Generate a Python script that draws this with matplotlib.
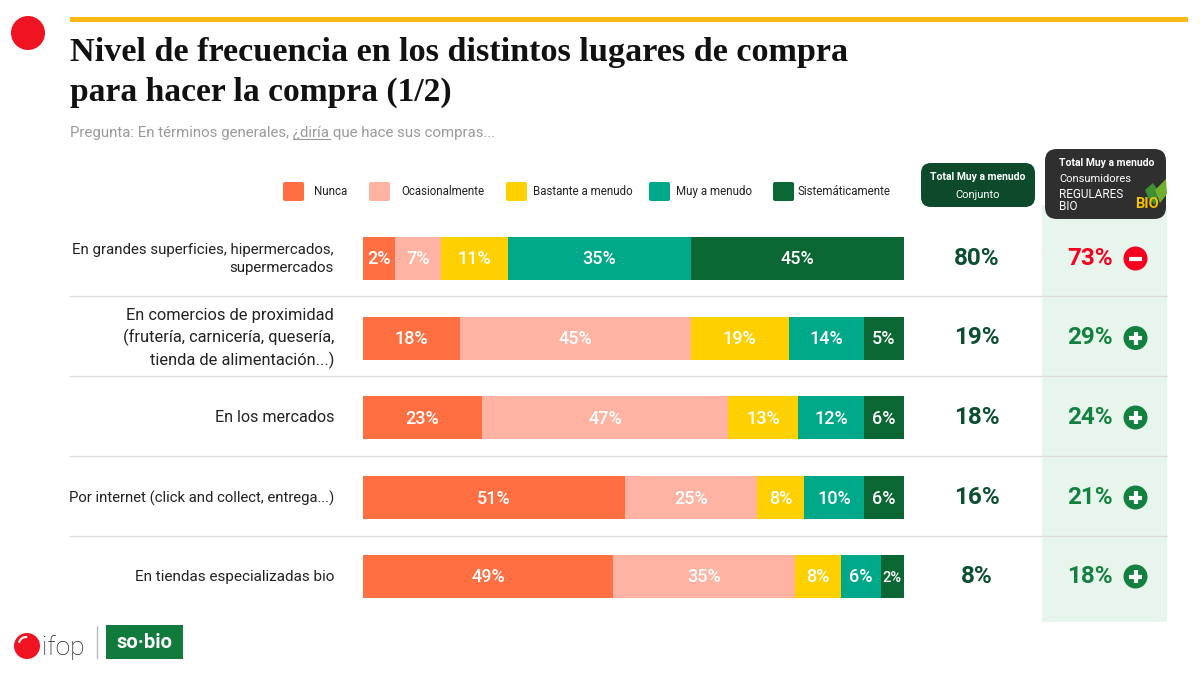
import matplotlib
matplotlib.use('Agg')
import matplotlib.pyplot as plt
from matplotlib.patches import Circle, FancyBboxPatch, Rectangle, Arc, Polygon

plt.rcParams['font.family'] = ['Roboto', 'DejaVu Sans']

# Datos
categorias = ['En grandes superficies, hipermercados,\nsupermercados',
              'En comercios de proximidad\n(frutería, carnicería, quesería,\ntienda de alimentación...)',
              'En los mercados',
              'Por internet (click and collect, entrega...)',
              'En tiendas especializadas bio']
series = ['Nunca', 'Ocasionalmente', 'Bastante a menudo', 'Muy a menudo', 'Sistemáticamente']
colores = ['#FF6F42', '#FFB3A3', '#FFD000', '#00A88A', '#0A6633']

# porcentajes rotulados
nunca = [2, 18, 23, 51, 49]
ocasional = [7, 45, 47, 25, 35]
bastante = [11, 19, 13, 8, 8]
muy = [35, 14, 12, 10, 6]
sistematico = [45, 5, 6, 6, 2]

# longitud dibujada de cada tramo (% del ancho), no siempre igual al rótulo en el original
largo_nunca = [5.9, 17.9, 22.0, 48.4, 46.2]
largo_ocasional = [8.5, 42.7, 45.5, 24.4, 33.6]
largo_bastante = [12.4, 18.1, 12.9, 8.7, 8.5]
largo_muy = [33.8, 13.9, 12.2, 11.1, 7.4]
largo_sistematico = [39.4, 7.4, 7.4, 7.4, 4.3]

total_conjunto = [80, 19, 18, 16, 8]
total_bio = [73, 29, 24, 21, 18]

etiquetas = [nunca, ocasional, bastante, muy, sistematico]
largos = [largo_nunca, largo_ocasional, largo_bastante, largo_muy, largo_sistematico]

fig = plt.figure(figsize=(12, 6.75), dpi=100, facecolor='white')

# capa en pixeles para textos y adornos
bg = fig.add_axes([0, 0, 1, 1])
bg.set_xlim(0, 1200)
bg.set_ylim(675, 0)
bg.axis('off')

# columna verde y separadores
bg.add_patch(Rectangle((1042, 205), 125, 417, color='#E8F5EC', lw=0))
filas_y = [258.5, 338, 417.5, 497.5, 576.5]
for y in [296, 376, 456, 536]:
    bg.plot([70, 1167], [y, y], color='#DDDDDD', lw=1)

# cabecera
bg.add_patch(Rectangle((70, 17), 1118, 5, color='#FDB913', lw=0))
bg.add_patch(Circle((28, 33), 17, color='#F01423', lw=0))
bg.text(70, 53, 'Nivel de frecuencia en los distintos lugares de compra', family='Liberation Serif',
        fontweight='bold', fontsize=24.6, color='#111111', va='center')
bg.text(70, 92, 'para hacer la compra (1/2)', family='Liberation Serif',
        fontweight='bold', fontsize=24.1, color='#111111', va='center')
bg.text(70, 132.5, 'Pregunta: En términos generales, ¿diría que hace sus compras...', fontsize=10.85,
        color='#9A9A9A', va='center')
bg.plot([293, 330], [139, 139], color='#9A9A9A', lw=0.8)

# leyenda
ley_x = [282, 368, 505, 648, 772]
ley_txt = [314, 401, 533, 676, 797]
for x, tx, s, c in zip(ley_x, ley_txt, series, colores):
    bg.add_patch(FancyBboxPatch((x + 1, 182), 21, 19, boxstyle='round,pad=0,rounding_size=2', color=c, lw=0))
    bg.text(tx, 191.5, s, fontsize=8.3, color='#222222', va='center')

# cajas de total
bg.add_patch(FancyBboxPatch((921, 163), 114, 44, boxstyle='round,pad=0,rounding_size=10', color='#0D4A2C', lw=0))
bg.text(978, 177, 'Total Muy a menudo', fontsize=7.5, fontweight='bold', color='white', ha='center', va='center')
bg.text(978, 195, 'Conjunto', fontsize=8, color='white', ha='center', va='center')

bg.add_patch(FancyBboxPatch((1045, 149), 121, 70, boxstyle='round,pad=0,rounding_size=12', color='#2F2F2F', lw=0))
bg.text(1059, 163, 'Total Muy a menudo', fontsize=7.5, fontweight='bold', color='white', va='center')
bg.text(1059, 179, 'Consumidores', fontsize=8, color='white', va='center')
bg.text(1059, 195, 'REGULARES', fontsize=8.5, color='white', va='center')
bg.text(1059, 206, 'BIO', fontsize=8.5, color='white', va='center')
bg.add_patch(Polygon([[1145, 190], [1153, 183], [1159, 192], [1155, 205], [1149, 199]], color='#3F8F35', lw=0))
bg.add_patch(Polygon([[1155, 190], [1166, 179], [1167, 194], [1160, 203]], color='#6FAE2F', lw=0))
bg.text(1147, 204, 'BIO', fontsize=10.5, fontweight='bold', color='#F2C100', ha='center', va='center')

# rotulos de fila y totales
tam_fila = [10.85, 11.8, 11.6, 10.7, 11]
for y, cat, tam, t1, t2 in zip(filas_y, categorias, tam_fila, total_conjunto, total_bio):
    bg.text(334, y + 0.5, cat, fontsize=tam, color='#222222', ha='right', va='center', linespacing=1.4)
    bg.text(977, y, f'{t1}%', fontsize=17.5, fontweight='bold', color='#0B4F2E', ha='center', va='center')
    subio = t2 >= t1
    col = '#12813F' if subio else '#F5001E'
    bg.text(1090, y, f'{t2}%', fontsize=17.5, fontweight='bold', color=col, ha='center', va='center')
    bg.add_patch(Circle((1135.5, y), 12, color=col, lw=0))
    bg.plot([1129, 1142], [y, y], color='white', lw=3, solid_capstyle='butt')
    if subio:
        bg.plot([1135.5, 1135.5], [y - 6.5, y + 6.5], color='white', lw=3, solid_capstyle='butt')

# logos
bg.add_patch(Circle((27, 646), 13, color='#F01423', lw=0))
bg.add_patch(Arc((26, 644), 14, 14, theta1=190, theta2=280, color='white', lw=1.5))
bg.text(42, 648, 'ifop', fontsize=19, fontweight='light', color='#222222', va='center')
bg.plot([97, 97], [626, 658], color='#BBBBBB', lw=1)
bg.add_patch(Rectangle((106, 625), 77, 34, color='#117A3D', lw=0))
bg.text(144.5, 642, 'so·bio', fontsize=14.5, fontweight='bold', color='white', ha='center', va='center')

# barras apiladas
ax = fig.add_axes([363 / 1200, 0, 541 / 1200, 1])
ax.patch.set_alpha(0)
ax.set_xlim(0, 100)
ax.set_ylim(675, 0)
ax.axis('off')

izq = [0.0] * len(categorias)
for lar, eti, c in zip(largos, etiquetas, colores):
    barras = ax.barh(filas_y, lar, left=izq, height=43, color=c, lw=0)
    for b, v in zip(barras, eti):
        ax.text(b.get_x() + b.get_width() / 2, b.get_y() + b.get_height() / 2 + 1, f'{v}%', color='white',
                fontsize=13 if b.get_width() > 5 else 10.5, fontweight='medium', ha='center', va='center')
    izq = [a + b for a, b in zip(izq, lar)]

fig.savefig('out.png', dpi=100)
